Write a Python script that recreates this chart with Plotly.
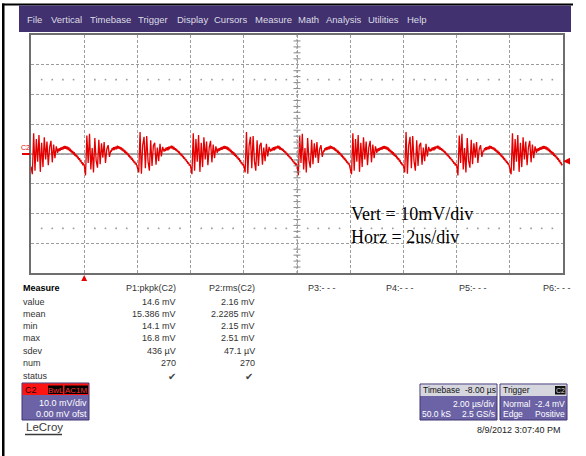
import plotly.graph_objects as go

# ---------------- data ----------------
# one switching cycle: time offset from the switching edge (us)
period_t = [0.000, 0.050, 0.100, 0.150, 0.200, 0.250, 0.300, 0.350, 0.400, 0.450,
            0.500, 0.550, 0.600, 0.650, 0.700, 0.750, 0.800, 0.850, 0.900, 0.950,
            1.000, 1.025, 1.050, 1.075, 1.100, 1.125, 1.150, 1.175, 1.200, 1.225,
            1.250, 1.275, 1.300, 1.325, 1.350, 1.375, 1.400, 1.425, 1.450, 1.475,
            1.500, 1.525, 1.550, 1.575, 1.600, 1.625, 1.650, 1.675, 1.700, 1.725,
            1.750, 1.775, 1.800, 1.825, 1.850, 1.875, 1.900, 1.925, 1.950, 1.975]
# cycle values (mV): ringing burst after the edge, then the slow ripple hump
cycle_a = [-4.2, -6.8, 7.0, -5.6, 5.0, -2.6, 6.4, -6.0, 3.8, -4.4,
           5.6, -1.8, 4.2, -3.8, 2.2, 4.4, -2.8, 3.2, -1.4, 2.6,
           0.4,
           1.8, 0.9, 2.0, 1.1, 2.2, 1.4, 2.4, 1.5, 2.6, 1.7,
           2.7, 1.7, 2.6, 1.6, 2.5, 1.3, 2.2, 1.0, 1.8, 0.6,
           1.4, 0.2, 1.0, -0.2, 0.6, -0.6, 0.1, -1.0, -0.4, -1.5,
           -0.9, -2.0, -1.4, -2.6, -2.0, -3.2, -2.7, -3.8, -3.3]
cycle_b = [-3.6, -7.2, 6.2, -3.0, 6.8, -5.2, 2.0, -6.2, 5.4, -2.2,
           -4.6, 4.8, -3.4, 3.6, -1.2, 4.0, -3.0, 1.6, 3.0, -1.0,
           1.2,
           1.0, 2.0, 1.2, 2.3, 1.3, 2.4, 1.6, 2.6, 1.6, 2.8,
           1.8, 2.6, 1.7, 2.4, 1.5, 2.2, 1.1, 1.9, 0.8, 1.5,
           0.4, 1.1, 0.0, 0.7, -0.4, 0.2, -0.9, -0.3, -1.4, -0.8,
           -1.9, -1.3, -2.4, -1.9, -3.0, -2.5, -3.5, -3.0, -4.0]
cycle_c = [-4.0, -6.2, 7.4, -6.6, 3.0, 5.8, -4.8, 6.0, -2.4, -5.6,
           4.6, -4.0, 2.8, 3.8, -3.6, 2.2, -2.4, 3.4, -0.8, 2.4,
           0.8,
           1.7, 1.0, 2.1, 1.2, 2.3, 1.2, 2.5, 1.6, 2.6, 1.9,
           2.8, 1.8, 2.7, 1.5, 2.4, 1.4, 2.0, 1.1, 1.7, 0.7,
           1.2, 0.3, 0.9, -0.2, 0.4, -0.7, -0.1, -1.1, -0.6, -1.6,
           -1.1, -2.1, -1.7, -2.7, -2.3, -3.3, -2.8, -3.9, -3.4]
cycle_starts = [-2, 0, 2, 4, 6, 8, 10, 12, 14, 16]
cycle_variant = ["A", "B", "C", "A", "C", "B", "A", "C", "B", "A"]

menu_items = ["File", "Vertical", "Timebase", "Trigger", "Display", "Cursors",
              "Measure", "Math", "Analysis", "Utilities", "Help"]
menu_x = [26, 50, 89, 137, 176, 213, 254, 297, 325, 367, 406]

measure_labels = ["value", "mean", "min", "max", "sdev", "num", "status"]
p1_values = ["14.6 mV", "15.386 mV", "14.1 mV", "16.8 mV", "436 µV", "270", "✔"]
p2_values = ["2.16 mV", "2.2285 mV", "2.15 mV", "2.51 mV", "47.1 µV", "270", "✔"]
empty_params = ["P3:- - -", "P4:- - -", "P5:- - -", "P6:- - -"]
empty_params_x = [307, 385, 458, 542]

trigger_level_mv = -2.4
trigger_time_us = 0.0

# ---------------- build trace ----------------
variants = {"A": cycle_a, "B": cycle_b, "C": cycle_c}
t, v = [], []
for s, var in zip(cycle_starts, cycle_variant):
    for dt, val in zip(period_t, variants[var]):
        t.append(s + dt)
        v.append(val)

W, H = 586, 456
L, T, R, B = 31, 35, 563, 273
SANS = "Liberation Sans, Arial, sans-serif"
SERIF = "Liberation Serif, Times New Roman, serif"


def fx(px):
    return (px - L) / (R - L)


def fy(py):
    return (B - py) / (B - T)


fig = go.Figure()

fig.add_trace(go.Scatter(x=t, y=v, mode="lines",
                         line=dict(color="#e40000", width=1.3),
                         hoverinfo="skip", showlegend=False))

# dotted rows of minor marks at +/-25 mV
dot_x = [i * 0.4 - 2 for i in range(51) if i % 5 != 0]
for yy in (25, -25):
    fig.add_trace(go.Scatter(x=dot_x, y=[yy] * len(dot_x), mode="markers",
                             marker=dict(symbol="square", size=1.6, color="#9a9a9a"),
                             hoverinfo="skip", showlegend=False))
# ticks on the centre vertical line
tick_y = [i * 2 - 40 for i in range(41) if i % 5 != 0]
fig.add_trace(go.Scatter(x=[8] * len(tick_y), y=tick_y, mode="markers",
                         marker=dict(symbol="line-ew", size=5,
                                     line=dict(color="#8a8a8a", width=1)),
                         hoverinfo="skip", showlegend=False))

shapes = []
annotations = []


def rect(x0, y0, x1, y1, fill, line=None, lw=0):
    shapes.append(dict(type="rect", xref="paper", yref="paper",
                       x0=fx(x0), x1=fx(x1), y0=fy(y1), y1=fy(y0),
                       fillcolor=fill, line=dict(color=line or fill, width=lw),
                       layer="above"))


def text(s, x, y, size=9, color="#333333", xanchor="left", family=SANS):
    annotations.append(dict(text=s, x=fx(x), y=fy(y), xref="paper", yref="paper",
                            xanchor=xanchor, yanchor="middle", showarrow=False,
                            borderpad=0, font=dict(size=size, color=color, family=family)))


# page frame
rect(2, 3.5, 573, 5.5, "#000000")
rect(2, 3.5, 4.5, 456, "#000000")
# menu bar
rect(19, 5.5, 571, 32, "#41316e")
for name, mx in zip(menu_items, menu_x):
    text(name, mx, 19, size=9.5, color="#dcdce6")

# centre lines
shapes.append(dict(type="line", xref="paper", yref="y", x0=0, x1=1, y0=0, y1=0,
                   line=dict(color="#5a5a5a", width=1.2), layer="below"))
shapes.append(dict(type="line", xref="x", yref="paper", x0=8, x1=8, y0=0, y1=1,
                   line=dict(color="#8a8a8a", width=1, dash="2px,2px"), layer="below"))

# channel label on left
text("C2", 25, 147, size=7, color="#e40000", xanchor="center")
shapes.append(dict(type="line", xref="paper", yref="y", x0=fx(22), x1=fx(30),
                   y0=0, y1=0, line=dict(color="#e40000", width=2)))
# trigger level marker (right)
shapes.append(dict(type="path", xref="paper", yref="y",
                   path=f"M {fx(563)},{trigger_level_mv} L {fx(570)},{trigger_level_mv + 1.1} "
                        f"L {fx(570)},{trigger_level_mv - 1.1} Z",
                   fillcolor="#e40000", line=dict(color="#e40000", width=0)))
# trigger position marker (bottom)
shapes.append(dict(type="path", xref="x", yref="paper",
                   path=f"M {trigger_time_us},{fy(275)} L {trigger_time_us - 0.11},{fy(281)} "
                        f"L {trigger_time_us + 0.11},{fy(281)} Z",
                   fillcolor="#e40000", line=dict(color="#e40000", width=0)))

# annotation text in plot
text("Vert = 10mV/div", 350, 214, size=18, color="#000000", family=SERIF)
text("Horz = 2us/div", 350, 237, size=18, color="#000000", family=SERIF)

# measure table
text("<b>Measure</b>", 22, 288, size=9, color="#000000")
text("P1:pkpk(C2)", 177, 288, xanchor="right")
text("P2:rms(C2)", 256, 288, xanchor="right")
for s, px in zip(empty_params, empty_params_x):
    text(s, px, 288)
row_y = [301.5, 313.5, 326, 338, 350.5, 363, 376]
for lab, a, b, ry in zip(measure_labels, p1_values, p2_values, row_y):
    text(lab, 22, ry)
    if lab == "status":
        text(a, 177, ry, size=10, color="#444444", xanchor="right")
        text(b, 254, ry, size=10, color="#444444", xanchor="right")
    else:
        text(a, 177, ry, xanchor="right")
        text(b, 256, ry, xanchor="right")

# C2 channel descriptor box
rect(22, 383, 89, 420, "#6b63a6", "#3c3470", 1)
rect(22.5, 383.5, 88.5, 395, "#ff1414")
rect(48, 385.5, 63, 394, "#000000")
rect(64.5, 385.5, 88, 394, "#000000")
text("C2", 24, 389.5, size=9, color="#1a0000")
text("BwL", 55.5, 390, size=8, color="#ff3030", xanchor="center")
text("AC1M", 76.2, 390, size=8, color="#ff3030", xanchor="center")
text("10.0 mV/div", 88, 403, size=9, color="#ffffff", xanchor="right")
text("0.00 mV ofst", 88, 413.5, size=9, color="#ffffff", xanchor="right")

# LeCroy logo
text("LeCroy", 25, 427, size=11.5, color="#3a3a3a")
shapes.append(dict(type="line", xref="paper", yref="paper", x0=fx(25), x1=fx(62),
                   y0=fy(434.5), y1=fy(434.5), line=dict(color="#3a3a3a", width=1.5)))

# Timebase box
rect(420, 384, 497, 420, "#6b63a6", "#3c3470", 1)
rect(420.5, 384.5, 496.5, 396, "#d6d6de")
text("Timebase", 421.5, 390, size=8.5, color="#111111")
text("-8.00 µs", 497, 390, size=8.5, color="#111111", xanchor="right")
text("2.00 µs/div", 496, 404, size=8.5, color="#ffffff", xanchor="right")
text("50.0 kS", 421, 414, size=8.5, color="#ffffff")
text("2.5 GS/s", 496, 414, size=8.5, color="#ffffff", xanchor="right")

# Trigger box
rect(500, 384, 567, 420, "#6b63a6", "#3c3470", 1)
rect(500.5, 384.5, 566.5, 396, "#d6d6de")
rect(555, 386, 565.5, 394.5, "#111111")
text("Trigger", 502, 390, size=8.5, color="#111111")
text("C2", 560.2, 390.2, size=7, color="#dddddd", xanchor="center")
text("Normal", 501.5, 404, size=8.5, color="#ffffff")
text("-2.4 mV", 566, 404, size=8.5, color="#ffffff", xanchor="right")
text("Edge", 501.5, 414, size=8.5, color="#ffffff")
text("Positive", 566, 414, size=8.5, color="#ffffff", xanchor="right")

text("8/9/2012 3:07:40 PM", 519, 430, size=9, color="#222222", xanchor="center")

axis_common = dict(showticklabels=False, ticks="", zeroline=False, showgrid=True,
                   gridcolor="#9c9c9c", gridwidth=1, griddash="3px,2px",
                   showline=True, linecolor="#6e6e6e", linewidth=2, mirror=True,
                   fixedrange=True)
fig.update_layout(
    width=W, height=H, autosize=False,
    margin=dict(l=L, r=W - R, t=T, b=H - B, pad=0),
    paper_bgcolor="#ffffff", plot_bgcolor="#ffffff",
    xaxis=dict(range=[-2, 18], tick0=0, dtick=2, **axis_common),
    yaxis=dict(range=[-40, 40], tick0=0, dtick=10, **axis_common),
    shapes=shapes, annotations=annotations, showlegend=False,
)

fig.write_html("out.html", config={"displayModeBar": False},
               post_script="document.body.style.margin='0px';document.body.style.padding='0px';")
